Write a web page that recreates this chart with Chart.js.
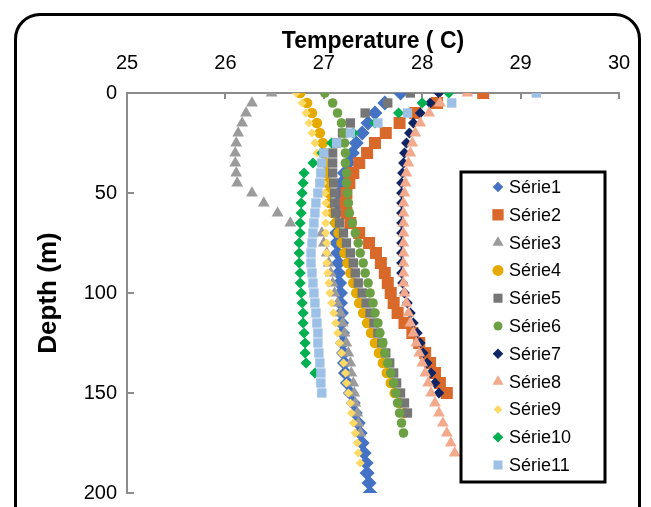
<!DOCTYPE html>
<html>
<head>
<meta charset="utf-8">
<script src="https://cdn.jsdelivr.net/npm/chart.js@4.4.1/dist/chart.umd.min.js"></script>
<style>
  html, body { margin: 0; padding: 0; background: #fff; }
  #wrap { position: relative; width: 651px; height: 507px; overflow: hidden; }
  #frame { position: absolute; left: 14px; top: 13px; width: 627px; height: 540px; box-sizing: border-box; border: 3px solid #000; border-radius: 26px; }
  canvas { position: absolute; left: 0; top: 0; }
</style>
</head>
<body>
<div id="wrap">
  <div id="frame"></div>
  <canvas id="profiles" width="651" height="507"></canvas>
</div>
<script>
// depth of each reading (m), shared by all series
var depth = [0, 5, 10, 15, 20, 25, 30, 35, 40, 45, 50, 55, 60, 65, 70, 75, 80, 85, 90, 95, 100,
  105, 110, 115, 120, 125, 130, 135, 140, 145, 150, 155, 160, 165, 170, 175, 180, 185, 190, 195, 200];

// temperature (C) per series, one value per depth from the top
var serie1 = [27.78, 27.62, 27.52, 27.45, 27.39, 27.33, 27.29, 27.25, 27.21, 27.18, 27.16, 27.14, 27.13, 27.13,
  27.13, 27.13, 27.14, 27.15, 27.15, 27.16, 27.17, 27.17, 27.18, 27.18, 27.19, 27.19, 27.20, 27.21, 27.22,
  27.24, 27.27, 27.30, 27.32, 27.35, 27.37, 27.39, 27.41, 27.43, 27.44, 27.46, 27.47];
var serie2 = [28.62, 28.15, 27.93, 27.77, 27.63, 27.52, 27.44, 27.36, 27.30, 27.26, 27.23, 27.22, 27.23, 27.27,
  27.36, 27.46, 27.53, 27.58, 27.62, 27.65, 27.68, 27.71, 27.75, 27.82, 27.90, 27.97, 28.03, 28.08, 28.13,
  28.18, 28.25];
var serie3 = [26.47, 26.27, 26.21, 26.17, 26.13, 26.11, 26.10, 26.10, 26.11, 26.12, 26.27, 26.39, 26.53, 26.66,
  26.98, 27.00, 27.03, 27.05, 27.07, 27.09, 27.11, 27.14, 27.17, 27.19, 27.21, 27.23, 27.25, 27.27, 27.28,
  27.30, 27.31, 27.32, 27.34, 27.35, 27.37];
var serie4 = [26.76, 26.83, 26.88, 26.93, 26.96, 26.99, 27.01, 27.02, 27.03, 27.04, 27.05, 27.06, 27.09, 27.12,
  27.15, 27.18, 27.21, 27.24, 27.27, 27.30, 27.33, 27.36, 27.40, 27.44, 27.48, 27.52, 27.56, 27.60, 27.64,
  27.68, 27.72, 27.77, 27.82];
var serie5 = [27.88, 27.65, 27.42, 27.27, 27.19, 27.13, 27.09, 27.09, 27.09, 27.10, 27.11, 27.11, 27.12, 27.16,
  27.20, 27.23, 27.27, 27.30, 27.32, 27.35, 27.39, 27.43, 27.47, 27.51, 27.55, 27.59, 27.63, 27.67, 27.71,
  27.74, 27.78, 27.82, 27.85];
var serie6 = [27.01, 27.09, 27.14, 27.18, 27.20, 27.21, 27.22, 27.22, 27.23, 27.23, 27.24, 27.25, 27.26, 27.29,
  27.32, 27.35, 27.37, 27.40, 27.42, 27.45, 27.47, 27.50, 27.52, 27.55, 27.57, 27.60, 27.62, 27.65, 27.68,
  27.71, 27.73, 27.75, 27.77, 27.79, 27.81];
var serie7 = [28.17, 28.08, 27.98, 27.91, 27.87, 27.84, 27.82, 27.81, 27.80, 27.79, 27.79, 27.79, 27.79, 27.79,
  27.79, 27.79, 27.79, 27.79, 27.79, 27.80, 27.82, 27.85, 27.88, 27.91, 27.95, 27.98, 28.01, 28.05, 28.09,
  28.13, 28.17];
var serie8 = [28.46, 28.18, 28.07, 27.98, 27.93, 27.90, 27.88, 27.86, 27.84, 27.83, 27.82, 27.81, 27.81, 27.81,
  27.81, 27.81, 27.81, 27.81, 27.81, 27.81, 27.82, 27.84, 27.86, 27.88, 27.91, 27.94, 27.97, 28.00, 28.03,
  28.06, 28.09, 28.13, 28.17, 28.21, 28.25, 28.29, 28.33];
var serie9 = [26.72, 26.78, 26.82, 26.85, 26.88, 26.91, 26.93, 26.95, 26.97, 26.99, 27.01, 27.02, 27.02, 27.02,
  27.02, 27.03, 27.03, 27.03, 27.04, 27.05, 27.06, 27.08, 27.10, 27.12, 27.14, 27.16, 27.18, 27.20, 27.22,
  27.23, 27.25, 27.27, 27.28, 27.30, 27.32, 27.34, 27.35, 27.37];
var serie10 = [28.27, 28.00, 27.76, 27.52, 27.30, 27.08, 26.98, 26.89, 26.80, 26.79, 26.78, 26.77, 26.77, 26.76,
  26.76, 26.75, 26.75, 26.75, 26.76, 26.76, 26.77, 26.78, 26.79, 26.79, 26.80, 26.81, 26.81, 26.82, 26.91];
var serie11 = [29.16, 28.30, 27.85, 27.55, 27.27, 27.13, 27.00, 26.98, 26.97, 26.96, 26.94, 26.92, 26.91, 26.90,
  26.89, 26.88, 26.87, 26.87, 26.88, 26.89, 26.90, 26.91, 26.92, 26.93, 26.94, 26.94, 26.95, 26.96, 26.97,
  26.97, 26.98];

var seriesNames = ['Série1', 'Série2', 'Série3', 'Série4', 'Série5', 'Série6', 'Série7', 'Série8', 'Série9', 'Série10', 'Série11'];
var tempTicks = [25, 26, 27, 28, 29, 30];
var depthTicks = [0, 50, 100, 150, 200];

var allSeries = [serie1, serie2, serie3, serie4, serie5, serie6, serie7, serie8, serie9, serie10, serie11];

// marker look per series
var markers = [
  { style: 'rectRot', r: 7.5, lr: 5.3, color: '#4472C4' },
  { style: 'rect', r: 8.5, lr: 8, color: '#D8692A' },
  { style: 'triangle', r: 6.8, lr: 6.4, color: '#9B9B9B' },
  { style: 'circle', r: 5.3, lr: 5.5, color: '#E5A900' },
  { style: 'rect', r: 6.6, lr: 6.4, color: '#767676' },
  { style: 'circle', r: 4.8, lr: 4.5, color: '#6BA043' },
  { style: 'rectRot', r: 5.4, lr: 5.3, color: '#0F2565' },
  { style: 'triangle', r: 6.8, lr: 6.4, color: '#F3A98B' },
  { style: 'rectRot', r: 4.6, lr: 4.3, color: '#FFD966' },
  { style: 'rectRot', r: 5.6, lr: 5.3, color: '#00B050' },
  { style: 'rect', r: 6.6, lr: 6.4, color: '#9CC0E6' }
];

var axisGray = '#8C8C8C';

var datasets = allSeries.map(function (temps, i) {
  var m = markers[i];
  return {
    label: seriesNames[i],
    data: temps.map(function (t, k) { return { x: t, y: depth[k] }; }),
    pointStyle: m.style,
    pointRadius: m.r,
    pointHoverRadius: m.r,
    backgroundColor: m.color,
    borderColor: m.color,
    pointBorderWidth: 0,
    legendRadius: m.lr,
    order: allSeries.length - i
  };
});

// boxed legend sitting inside the plot, like the Excel original
var legendBox = {
  id: 'legendBox',
  afterDatasetsDraw: function (chart) {
    var ctx = chart.ctx;
    ctx.save();
    ctx.fillStyle = '#fff';
    ctx.fillRect(461, 172, 144, 310);
    ctx.strokeStyle = '#000';
    ctx.lineWidth = 3;
    ctx.strokeRect(461, 172, 144, 310);
    ctx.font = '18px "Liberation Sans", Arial, sans-serif';
    ctx.textBaseline = 'middle';
    chart.data.datasets.forEach(function (ds, i) {
      var y = 187 + i * 27.8;
      ctx.fillStyle = ds.backgroundColor;
      Chart.helpers.drawPoint(ctx, { pointStyle: ds.pointStyle, radius: ds.legendRadius, rotation: 0, borderWidth: 0 }, 498, y);
      ctx.fillStyle = '#000';
      ctx.fillText(ds.label, 509, y + 1);
    });
    ctx.restore();
  }
};

// fixed axis boxes; drop the label overhang so the plot keeps its full size
function fixBox(size) {
  return function (s) {
    if (s.isHorizontal()) { s.height = size; } else { s.width = size; }
    s.paddingTop = 0; s.paddingBottom = 0; s.paddingLeft = 0; s.paddingRight = 0;
  };
}

Chart.defaults.font.family = '"Liberation Sans", Arial, sans-serif';
Chart.defaults.color = '#000';

var ctx = document.getElementById('profiles');
var profileChart = new Chart(ctx, {
  type: 'scatter',
  data: { datasets: datasets },
  plugins: [legendBox],
  options: {
    responsive: false,
    animation: false,
    layout: { padding: { top: 0, left: 0, right: 32, bottom: 14 } },
    plugins: {
      legend: { display: false },
      tooltip: { enabled: false }
    },
    scales: {
      x: {
        type: 'linear',
        position: 'top',
        min: 25,
        max: 30,
        afterFit: fixBox(93),
        afterBuildTicks: function (s) { s.ticks = tempTicks.map(function (v) { return { value: v }; }); },
        grid: { drawOnChartArea: false, tickLength: -6, color: axisGray, lineWidth: 2 },
        border: { color: axisGray, width: 2 },
        ticks: { padding: 24, color: '#000', font: { size: 20 } },
        title: {
          display: true,
          text: 'Temperature ( C)',
          color: '#000',
          font: { size: 23, weight: 'bold' },
          padding: { top: 28, bottom: 0 }
        }
      },
      y: {
        type: 'linear',
        reverse: true,
        min: 0,
        max: 200,
        afterFit: fixBox(127),
        afterBuildTicks: function (s) { s.ticks = depthTicks.map(function (v) { return { value: v }; }); },
        grid: { drawOnChartArea: false, tickLength: -7, color: axisGray, lineWidth: 2 },
        border: { color: axisGray, width: 2 },
        ticks: { padding: 17, color: '#000', font: { size: 20 } },
        title: {
          display: true,
          text: 'Depth (m)',
          color: '#000',
          font: { size: 26, weight: 'bold' },
          padding: { top: 33, bottom: 0 }
        }
      }
    }
  }
});
</script>
</body>
</html>
